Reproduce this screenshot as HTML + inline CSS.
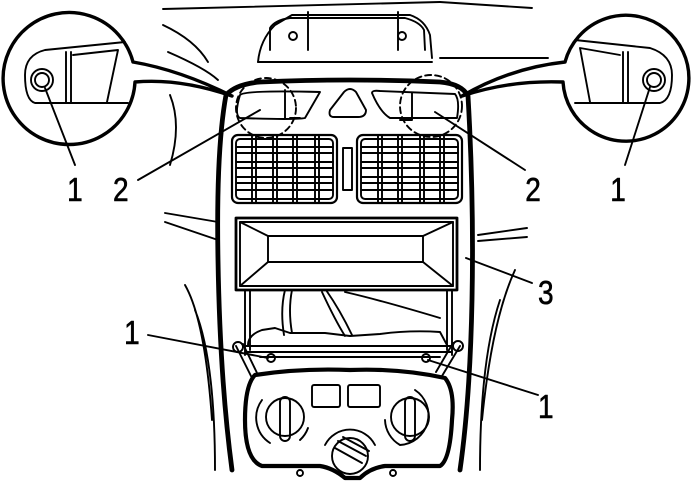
<!DOCTYPE html>
<html><head><style>html,body{margin:0;padding:0;background:#fff}svg{display:block}text{font-family:"Liberation Sans",sans-serif;font-size:33px;fill:#000;stroke:#000;stroke-width:0.6}</style></head><body>
<svg width="696" height="481" viewBox="0 0 696 481" fill="none" stroke="#000" stroke-width="1.9" stroke-linejoin="round" stroke-linecap="round" style="position:absolute;left:0;top:0">
<path d="M163 9 L440 2"/><path d="M440 2 L532 8"/>
<path d="M258 62 Q260 40 275 25 L292 15 L410 15 Q425 20 430 35 L432 58"/>
<path d="M270 50 L270 28 Q275 20 290 18 L405 18 Q420 22 424 30 L425 50"/>
<path d="M308 12 L308 50 M398 12 L398 50"/>
<circle cx="293" cy="36" r="4"/><circle cx="402" cy="36" r="4"/>
<path d="M258 62 L432 62"/>
<path d="M163 25 Q195 40 208 62"/><path d="M168 52 Q205 68 218 80"/>
<path d="M440 58 L548 58"/>
<path d="M170 95 Q182 125 170 165"/>
<path d="M165 213 L218 222 M165 222 L218 240"/>
<path d="M478 235 L527 228 M478 241 L527 237"/>
<path d="M185 285 Q205 320 212 420 M195 310 Q215 360 215 470"/>
<path d="M515 270 Q492 320 482 420 M500 300 Q480 360 480 470"/>
<path d="M133 62 A66 66 0 1 0 135 82 Q180 78 232 96 M133 62 Q180 70 232 96" stroke-width="3.4"/>
<path d="M125 42 L45 50 Q25 55 25 75 Q25 100 35 103 L128 103"/>
<path d="M66 52 L66 103 M71 52 L71 103 M73 55 L118 50 L107 102"/>
<circle cx="42" cy="80" r="11"/><circle cx="42" cy="80" r="7"/>
<path d="M565 62 A63 63 0 1 1 563 82 Q510 80 462 96 M565 62 Q510 68 462 96" stroke-width="3.4"/>
<path d="M575 40 L650 48 Q672 55 672 75 Q672 100 660 103 L575 103"/>
<path d="M628 52 L628 103 M623 52 L623 103 M620 55 L580 48 L590 102"/>
<circle cx="654" cy="80" r="11"/><circle cx="654" cy="80" r="7"/>
<path d="M232 470 Q220 380 218 260 Q216 150 226 95 Q236 84 260 82 Q350 78 440 82 Q462 84 468 96 Q474 200 472 300 Q470 400 460 470" stroke-width="4.8"/>
<path d="M240 95 Q245 90 320 92 L305 118 Q295 120 240 118 Q234 115 240 95Z"/>
<path d="M285 90 L285 118 M290 118 L300 118"/>
<path d="M344 92 Q350 86 356 92 L366 110 Q366 117 358 117 L334 117 Q328 117 330 110Z"/>
<path d="M372 93 Q372 90 380 91 L455 94 Q460 100 457 118 L390 118 Q380 112 372 93Z"/>
<path d="M412 93 L412 120 L400 120"/>
<circle cx="266" cy="108" r="30" stroke-dasharray="6 4"/>
<circle cx="431" cy="106" r="31" stroke-dasharray="6 4"/>
<rect x="232" y="135" width="105" height="68" rx="6" stroke-width="2.2"/>
<rect x="236" y="139" width="97" height="60" rx="4"/>
<path d="M237 147H333M237 153H333M237 162H333M237 168H333M237 177H333M237 183H333M237 190H333"/>
<path d="M252 135V203M256 135V203M273 135V203M277 135V203M293 135V203M297 135V203M315 135V203M319 135V203"/>
<rect x="357" y="135" width="105" height="68" rx="6" stroke-width="2.2"/>
<rect x="361" y="139" width="97" height="60" rx="4"/>
<path d="M362 147H458M362 153H458M362 162H458M362 168H458M362 177H458M362 183H458M362 190H458"/>
<path d="M378 135V203M382 135V203M398 135V203M402 135V203M420 135V203M424 135V203M440 135V203M444 135V203"/>
<rect x="343" y="148" width="9" height="42"/>
<rect x="236" y="218" width="221" height="72" stroke-width="2.8"/>
<rect x="240" y="222" width="213" height="64"/>
<path d="M268 236 L423 236 L423 262 L268 262Z"/>
<path d="M240 222L268 236M453 222L423 236M240 286L268 262M453 286L423 262"/>
<path d="M245 290 L245 355 M250 290 L250 350 M447 290 L447 350 M452 290 L452 355"/>
<path d="M285 290 Q280 310 284 335 M292 290 Q288 310 292 333 M326 290 Q340 310 352 335 M322 292 Q335 320 345 336 M345 292 Q380 300 440 318"/>
<path d="M248 345 Q248 335 262 330 L275 328 L290 333 L325 333 L350 336 L380 334 Q410 330 440 332 L447 345"/>
<path d="M246 346 L452 346 M246 352 L452 352 M260 357 L440 357"/>
<circle cx="271" cy="358" r="4"/><circle cx="426" cy="358" r="4"/>
<path d="M236 346 L252 378 M243 344 L258 375 M460 346 L442 376 M453 343 L436 372"/>
<circle cx="238" cy="347" r="5"/><circle cx="458" cy="346" r="5"/>
<path d="M255 375 Q300 368 350 370 Q400 368 445 378 Q455 390 452 420 Q450 460 440 466 L385 466 Q370 468 360 478 L345 478 Q333 468 320 466 L262 466 Q245 460 245 420 Q245 385 255 375Z" stroke-width="4.2"/>
<rect x="312" y="385" width="28" height="22" rx="2"/><rect x="348" y="385" width="32" height="22" rx="2"/>
<circle cx="285" cy="417" r="19"/><rect x="280" y="397" width="10" height="44" rx="5"/>
<path d="M262 400 A30 30 0 0 0 270 443 M300 440 A30 30 0 0 0 308 428"/>
<circle cx="410" cy="417" r="19"/><rect x="405" y="397" width="10" height="44" rx="5"/>
<path d="M415 390 A30 30 0 0 1 400 445 A30 30 0 0 1 385 420"/>
<circle cx="350" cy="456" r="18"/>
<path d="M335 448 L362 463 M338 441 L366 456 M343 437 L369 451"/>
<path d="M325 445 A28 28 0 0 1 375 445"/>
<circle cx="300" cy="473" r="3"/><circle cx="393" cy="473" r="3"/>
<path d="M45 88 L75 165"/><path d="M138 180 L260 110"/>
<path d="M435 112 L525 170"/><path d="M650 87 L625 165"/>
<path d="M466 258 L532 283"/><path d="M148 335 L268 358"/><path d="M428 360 L538 395"/>
<g transform="scale(0.85 1)">
<text x="79" y="201">1</text><text x="133" y="201">2</text><text x="618" y="201">2</text><text x="718" y="201">1</text><text x="633" y="304">3</text><text x="146" y="344">1</text><text x="633" y="418">1</text>
</g>
</svg>
</body></html>
